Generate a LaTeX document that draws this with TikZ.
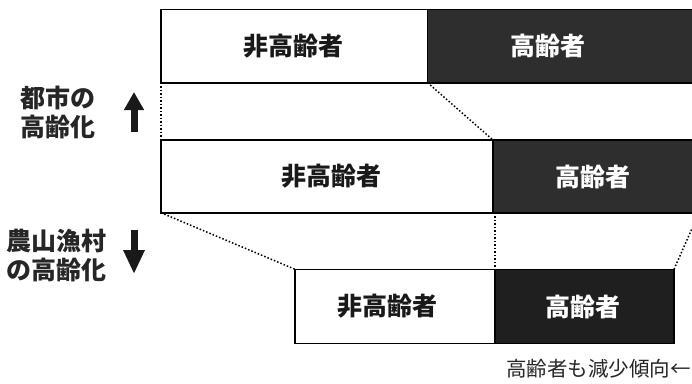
\documentclass[tikz,border=0pt]{standalone}
\usepackage{fontspec}
\newfontfamily\jp{Noto Sans CJK JP}
\usetikzlibrary{arrows.meta}
\tikzset{
  seg/.style={draw=black, line width=1.6pt, inner sep=0pt, outer sep=0pt},
  wseg/.style={seg, fill=white},
  dseg/.style={seg, fill=black!82},
  dseg2/.style={seg, fill=black!88},
  wtxt/.style={font=\jp\bfseries\fontsize{25}{25}\selectfont, text=black!90, inner sep=0pt},
  btxt/.style={font=\jp\bfseries\fontsize{25}{25}\selectfont, text=white, inner sep=0pt},
  side/.style={font=\jp\bfseries\fontsize{25}{29}\selectfont, text=black!85, align=left, inner sep=0pt, anchor=west},
  link/.style={draw=black, line width=1.5pt, dotted},
  uparrow/.style={line width=7pt, -{Triangle[length=18pt, width=19pt]}, black!90},
  downarrow/.style={line width=7pt, -{Triangle[length=24pt, width=20pt]}, black!90},
}
\begin{document}
\begin{tikzpicture}[x=1pt, y=-1pt]
\useasboundingbox (0,0) rectangle (692,383);
\clip (0,0) rectangle (692,383);
% top row
\node[wseg, minimum width=266.6pt, minimum height=73.4pt] (t1) at (294.3,46) {};
\node[dseg, minimum width=271.4pt, minimum height=73.4pt] (t2) at (563.3,46) {};
% middle row
\node[wseg, minimum width=332pt, minimum height=72.7pt] (m1) at (327,176.4) {};
\node[dseg, minimum width=206pt, minimum height=72.7pt] (m2) at (596,176.4) {};
% bottom row
\node[wseg, minimum width=200pt, minimum height=74pt] (b1) at (395,306.3) {};
\node[dseg2, minimum width=179pt, minimum height=74pt] (b2) at (584.5,306.3) {};
% labels
\node[wtxt] (lt1) at (293.5,46) {非高齢者};
\node[btxt] (lt2) at (548,46) {高齢者};
\node[wtxt] (lm1) at (331,176.5) {非高齢者};
\node[btxt] (lm2) at (592.6,176.5) {高齢者};
\node[wtxt] (lb1) at (387,306.5) {非高齢者};
\node[btxt] (lb2) at (583,306.5) {高齢者};
% dotted connectors
\draw[link] (t1.south west) -- (m1.north west);
\draw[link] (t1.south east) -- (m1.north east);
\draw[link] (m1.south west) -- (b1.north west);
\coordinate (mb) at (b1.north east |- m1.south);
\draw[link] (mb) -- (b1.north east);
\draw[link] (b2.north east) -- (m2.south east);
% side labels
\node[side] (city) at (20,112) {都市の\\高齢化};
\node[side] (rural) at (6,256) {農山漁村\\の高齢化};
\coordinate (ua1) at (134,132);
\coordinate (ua2) at (134,92);
\draw[uparrow] (ua1) -- (ua2);
\coordinate (da1) at (134,230);
\coordinate (da2) at (134,274);
\draw[downarrow] (da1) -- (da2);
% caption
\node[font=\jp\fontsize{20.5}{20.5}\selectfont, text=black!85, anchor=east, inner sep=0pt] (cap) at (691,369) {高齢者も減少傾向←};
\end{tikzpicture}
\end{document}
